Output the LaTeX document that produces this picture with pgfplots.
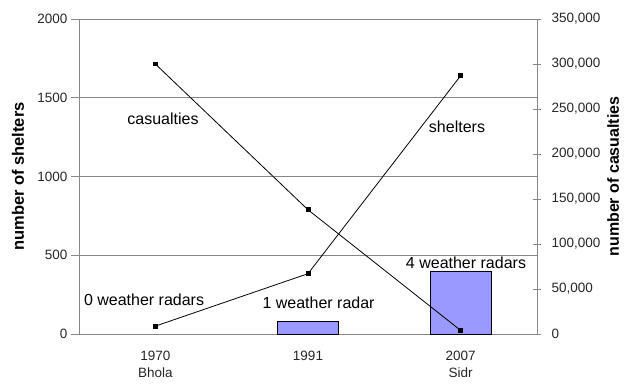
\documentclass[border=0pt]{standalone}
\usepackage{fontspec}
\setmainfont{Liberation Sans}
\usepackage{pgfplots}
\pgfplotsset{compat=1.18}
\definecolor{barblue}{RGB}{153,153,255}
\definecolor{axgray}{RGB}{135,135,135}
\begin{document}
\begin{tikzpicture}
\begin{axis}[name=ax, scale only axis, width=458pt, height=315pt,
  xmin=-0.5, xmax=2.5, ymin=0, ymax=2000,
  axis line style={axgray, line width=0.8pt},
  ytick={0,500,1000,1500,2000}, yticklabels={0,500,1000,1500,2000}, ytick pos=left,
  ymajorgrids, grid style={axgray, line width=0.8pt},
  xtick={0,1,2}, xticklabels={{1970\\Bhola},{1991},{2007\\Sidr}},
  minor xtick={-0.5,0.5,1.5,2.5}, xtick pos=bottom,
  tick align=outside, major tick length=8pt, minor tick length=6pt,
  every tick/.style={axgray, line width=0.8pt},
  x tick style={draw=none}, minor x tick style={axgray, line width=0.8pt},
  yticklabel style={font=\fontsize{13.5}{16}\selectfont, text=black!85},
  xticklabel style={font=\fontsize{13.5}{17}\selectfont, align=center, text=black!85, yshift=-6pt},
  ylabel={number of shelters},
  ylabel style={at={(axis description cs:-0.1332,0.5)}, anchor=center, font=\fontsize{16.5}{18}\selectfont\bfseries},
  clip=false,
]
\addplot[ybar, bar width=0.4, fill=barblue, draw=black, line width=0.8pt] coordinates {(1,80) (2,400)};
\addplot[black, line width=0.8pt, mark=square*, mark size=1.9pt] coordinates {(0,50) (1,383) (2,1640)};
\node[font=\fontsize{16}{18}\selectfont] at (axis cs:-0.074,216) {0 weather radars};
\node[font=\fontsize{16}{18}\selectfont] at (axis cs:1.069,197) {1 weather radar};
\node[font=\fontsize{16}{18}\selectfont] at (axis cs:2.035,453) {4 weather radars};
\node[font=\fontsize{16}{18}\selectfont] at (axis cs:0.050,1365) {casualties};
\node[font=\fontsize{16}{18}\selectfont] at (axis cs:1.976,1314) {shelters};
\end{axis}
\begin{axis}[scale only axis, width=458pt, height=315pt,
  xmin=-0.5, xmax=2.5, ymin=0, ymax=350000,
  axis x line=none, axis y line*=right,
  axis line style={axgray, line width=0.8pt},
  ytick={0,50000,100000,150000,200000,250000,300000,350000},
  yticklabels={0,{50,000},{100,000},{150,000},{200,000},{250,000},{300,000},{350,000}},
  scaled y ticks=false,
  tick align=center, major tick length=8pt,
  every tick/.style={axgray, line width=0.8pt},
  yticklabel style={font=\fontsize{13.5}{16}\selectfont, text=black!85, xshift=7pt},
  ylabel={number of casualties},
  ylabel style={at={(axis description cs:1.166,0.5)}, anchor=center, font=\fontsize{16}{18}\selectfont\bfseries},
]
\addplot[black, line width=0.8pt, mark=square*, mark size=1.9pt] coordinates {(0,300000) (1,138000) (2,4000)};
\end{axis}
\pgfresetboundingbox
\path[use as bounding box] ([xshift=-79pt,yshift=-49pt]ax.south west) rectangle ([xshift=87pt,yshift=19pt]ax.north east);
\end{tikzpicture}
\end{document}
